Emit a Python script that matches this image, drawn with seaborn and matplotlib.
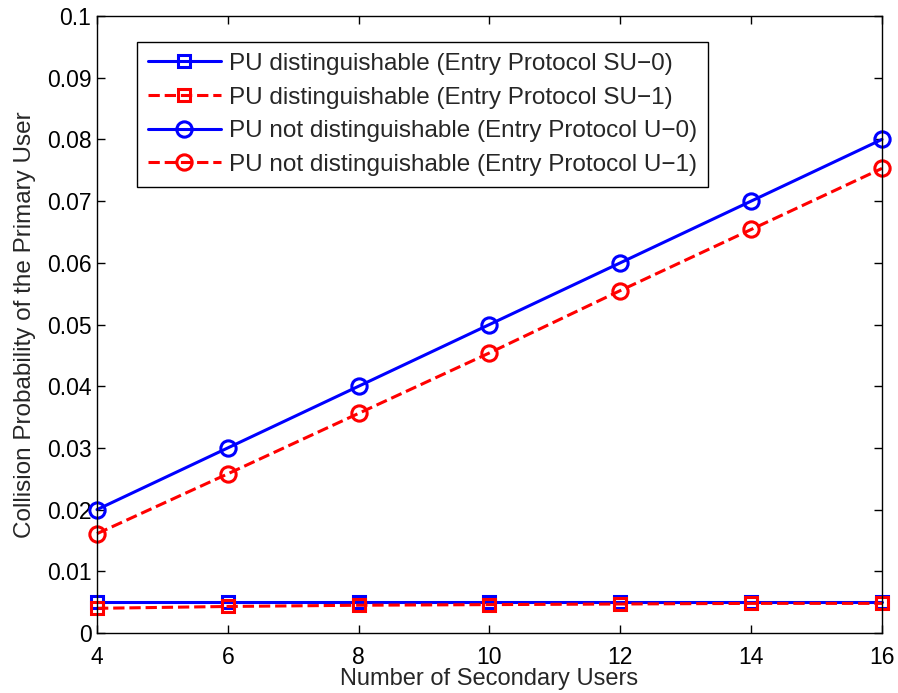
import matplotlib
matplotlib.use("Agg")
import matplotlib.pyplot as plt
import numpy as np
import pandas as pd
import seaborn as sns
from matplotlib.ticker import FuncFormatter

num_users = [4, 6, 8, 10, 12, 14, 16]
su0 = [0.005, 0.005, 0.005, 0.005, 0.005, 0.005, 0.005]
su1 = [0.0040, 0.0043, 0.0045, 0.0046, 0.0047, 0.0048, 0.0048]
u0 = [0.02, 0.03, 0.04, 0.05, 0.06, 0.07, 0.08]
u1 = [0.0161, 0.0258, 0.0356, 0.0454, 0.0555, 0.0654, 0.0753]

labels = [
    "PU distinguishable (Entry Protocol SU\u22120)",
    "PU distinguishable (Entry Protocol SU\u22121)",
    "PU not distinguishable (Entry Protocol U\u22120)",
    "PU not distinguishable (Entry Protocol U\u22121)",
]

sns.set_theme(style="ticks")
plt.rcParams["font.family"] = ["Liberation Sans", "DejaVu Sans"]

fig = plt.figure(figsize=(8.98, 6.93), dpi=100)
ax = fig.add_axes([97 / 898, 1 - 633 / 693, 785 / 898, 617 / 693])

series = [
    (su0, labels[0], "blue", "-", "s", 9),
    (su1, labels[1], "red", "--", "s", 9),
    (u0, labels[2], "blue", "-", "o", 11),
    (u1, labels[3], "red", "--", "o", 11),
]
for vals, lab, col, ls, mk, ms in series:
    df = pd.DataFrame({"x": num_users, "y": vals})
    sns.lineplot(data=df, x="x", y="y", ax=ax, color=col, linestyle=ls,
                 marker=mk, markersize=ms, markerfacecolor="none",
                 markeredgecolor=col, markeredgewidth=2.2, linewidth=2.2,
                 label=lab, dashes=False if ls == "-" else (4.5, 3.5), clip_on=False)

ax.set_xlim(4, 16)
ax.set_ylim(0, 0.1)
ax.set_xticks(num_users)
ax.set_yticks(np.arange(0, 0.1001, 0.01))
ax.yaxis.set_major_formatter(FuncFormatter(lambda v, p: "%g" % round(v, 3)))
ax.tick_params(direction="in", top=True, right=True, labelsize=16.5, length=6, width=1, colors="black")
ax.tick_params(axis="x", pad=9)
ax.tick_params(axis="y", pad=4)
for sp in ax.spines.values():
    sp.set_visible(True)
    sp.set_color("black")
    sp.set_linewidth(1)
ax.set_xlabel("Number of Secondary Users", fontsize=17, labelpad=0)
ax.set_ylabel("Collision Probability of the Primary User", fontsize=17.5, labelpad=8)

leg = ax.legend(loc="upper left", bbox_to_anchor=(0.051, 0.958), borderaxespad=0,
                fontsize=17.5, frameon=True, fancybox=False, edgecolor="black",
                framealpha=1, handlelength=3.0, borderpad=0.45, labelspacing=0.48,
                handletextpad=0.35)
leg.get_frame().set_linewidth(1)

fig.savefig("out.png", dpi=100)
plt.close(fig)
